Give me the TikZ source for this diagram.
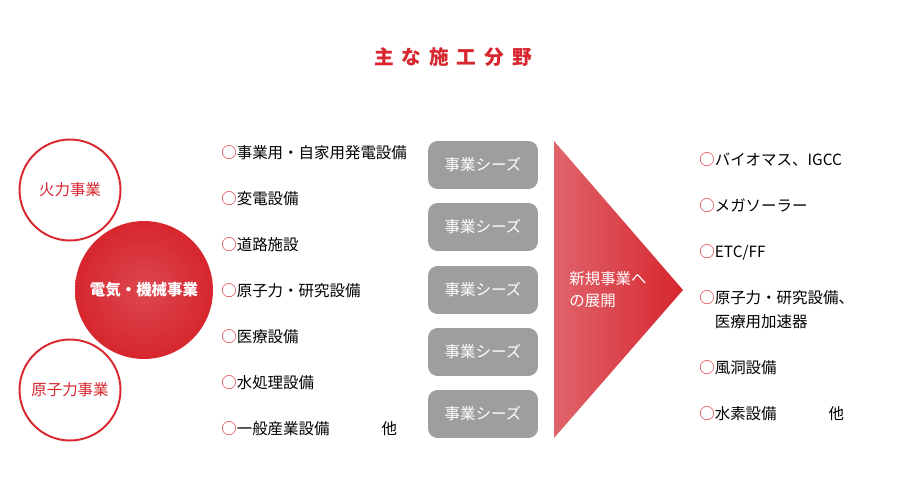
\documentclass[tikz,border=0pt]{standalone}
\usepackage{fontspec}
\setmainfont{Noto Sans CJK JP}
\newfontfamily\titlefont[LetterSpace=40]{Noto Sans CJK JP}
\usetikzlibrary{positioning}
\definecolor{brandred}{HTML}{D7262E}
\definecolor{lightred}{HTML}{E0646B}
\definecolor{seedgray}{HTML}{9E9E9E}
\newcommand{\mk}{\textcolor{brandred}{○}}

\begin{document}
\begin{tikzpicture}[x=0.02cm, y=-0.02cm,
                every node/.style={font=\fontsize{8.8}{13.6}\selectfont},
                field/.style={circle, draw=brandred, line width=1.1pt, fill=white,
                    minimum size=2.02cm, inner sep=0pt, text=brandred},
                item/.style={anchor=west, inner sep=0pt, align=left, text=black},
                seed/.style={fill=seedgray, rounded corners=5.5pt, text=white,
                    minimum width=2.2cm, minimum height=0.96cm, inner sep=0pt}]
                \useasboundingbox (0,0) rectangle (900,500);
                % title
                \node[text=brandred, font=\titlefont\fontsize{11.2}{13}\selectfont\bfseries] (title) at (453,57) {主な施工分野};
                % business circles
                \node[field] (fire) at (70,190) {火力事業};
                \node[field] (nuclear) at (70,390) {原子力事業};
                \node[circle, minimum size=2.76cm, inner sep=0pt, inner color=lightred!55!brandred,
                    outer color=brandred, text=white, font=\fontsize{8.8}{10}\selectfont\bfseries]
                    (elec) at (144,290) {電気・機械事業};
                % current fields
                \node[item] (i1) at (221,153) {\mk 事業用・自家用発電設備};
                \node[item] (i2) at (221,199) {\mk 変電設備};
                \node[item] (i3) at (221,245) {\mk 道路施設};
                \node[item] (i4) at (221,291) {\mk 原子力・研究設備};
                \node[item] (i5) at (221,337) {\mk 医療設備};
                \node[item] (i6) at (221,383) {\mk 水処理設備};
                \node[item] (i7) at (221,429) {\mk 一般産業設備\hspace{1.04cm}他};
                % seeds
                \node[seed] (s1) at (483,165) {事業シーズ};
                \node[seed] (s2) at (483,227) {事業シーズ};
                \node[seed] (s3) at (483,290) {事業シーズ};
                \node[seed] (s4) at (483,352) {事業シーズ};
                \node[seed] (s5) at (483,414) {事業シーズ};
                % arrow to new business
                \shade[left color=lightred, right color=brandred] (554,141) -- (683,290) -- (554,438) -- cycle;
                \node[anchor=west, align=left, text=white, inner sep=0pt,
                    font=\fontsize{8.8}{12.4}\selectfont] (new) at (569,290) {新規事業へ\\の展開};
                % new fields
                \node[item] (n1) at (699,160) {\mk バイオマス、IGCC};
                \node[item] (n2) at (699,206) {\mk メガソーラー};
                \node[item] (n3) at (699,252) {\mk ETC/FF};
                \node[item] (n4) at (699,310) {\mk 原子力・研究設備、\\\phantom{○}医療用加速器};
                \node[item] (n5) at (699,368) {\mk 風洞設備};
                \node[item] (n6) at (699,414) {\mk 水素設備\hspace{1.04cm}他};
            \end{tikzpicture}
\end{document}
